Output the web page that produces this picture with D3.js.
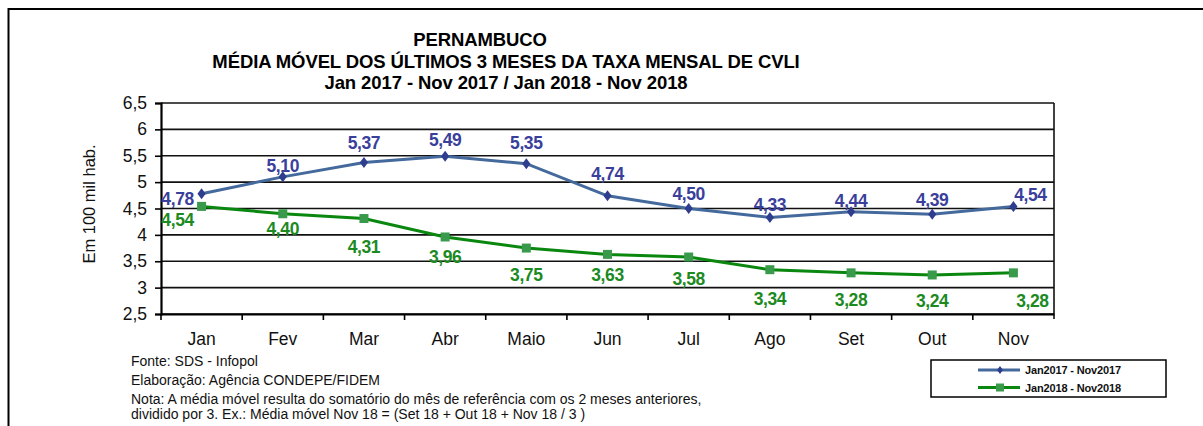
<!DOCTYPE html>
<html>
<head>
<meta charset="utf-8">
<script src="https://cdn.jsdelivr.net/npm/d3@7"></script>
<style>
  body { margin: 0; background: #fff; }
  svg { font-family: Arial, "Liberation Sans", sans-serif; }
</style>
</head>
<body>
<div id="chart"></div>
<script>
const months = ['Jan', 'Fev', 'Mar', 'Abr', 'Maio', 'Jun', 'Jul', 'Ago', 'Set', 'Out', 'Nov']
const serie2017 = [4.78, 5.10, 5.37, 5.49, 5.35, 4.74, 4.50, 4.33, 4.44, 4.39, 4.54]
const serie2018 = [4.54, 4.40, 4.31, 3.96, 3.75, 3.63, 3.58, 3.34, 3.28, 3.24, 3.28]
const yTicks = [2.5, 3, 3.5, 4, 4.5, 5, 5.5, 6, 6.5]
const seriesNames = ['Jan2017 - Nov2017', 'Jan2018 - Nov2018']
const titleLines = [
  'PERNAMBUCO',
  'MÉDIA MÓVEL DOS ÚLTIMOS  3 MESES DA TAXA  MENSAL DE CVLI',
  'Jan 2017 - Nov 2017 / Jan 2018 - Nov 2018'
]
const notes = [
  'Fonte: SDS - Infopol',
  'Elaboração: Agência  CONDEPE/FIDEM',
  'Nota: A média móvel resulta do somatório do mês de referência com os 2 meses anteriores,',
  'dividido por 3. Ex.: Média móvel Nov 18 = (Set 18 + Out 18 + Nov 18 / 3 )'
]

// layout: deslocamento vertical dos rótulos (como no original do Excel)
const labelDy2017 = [11, -5, -14, -10, -15, -16, -9, -6, -5, -8, -5]
const labelDy2018 = [20, 21, 34, 26, 33, 27, 28, 35, 33, 32, 34]

const width = 1203
const height = 426
const margin = { left: 161, right: 1054, top: 103, bottom: 314 }
const font = 'Arial, "Liberation Sans", sans-serif'

const ptBR = d3.formatLocale({ decimal: ',', thousands: '.', grouping: [3], currency: ['R$', ''] })
const fmt2 = ptBR.format('.2f')
const fmtTick = (d) => String(d).replace('.', ',')

const svg = d3
  .select('#chart')
  .append('svg')
  .attr('width', width)
  .attr('height', height)

// moldura externa
svg
  .append('rect')
  .attr('x', 8.5)
  .attr('y', 9)
  .attr('width', 1300)
  .attr('height', 600)
  .attr('fill', 'none')
  .attr('stroke', '#000')
  .attr('stroke-width', 2)

const x = d3.scaleBand().domain(months).range([margin.left, margin.right]).padding(0)
const y = d3.scaleLinear().domain([2.5, 6.5]).range([margin.bottom, margin.top])
const cx = (m) => x(m) + x.bandwidth() / 2

// título
svg
  .append('g')
  .selectAll('text')
  .data(titleLines)
  .join('text')
  .attr('x', (d, i) => (i === 0 ? 480 : 506))
  .attr('y', (d, i) => [46, 68, 89][i])
  .attr('text-anchor', 'middle')
  .attr('font-size', 18.5)
  .attr('font-weight', 'bold')
  .attr('letter-spacing', -0.1)
  .text((d) => d)

// grade horizontal
svg
  .append('g')
  .selectAll('line')
  .data(yTicks)
  .join('line')
  .attr('x1', margin.left)
  .attr('x2', margin.right)
  .attr('y1', (d) => y(d))
  .attr('y2', (d) => y(d))
  .attr('stroke', '#111')
  .attr('stroke-width', 1.6)

// borda direita
svg
  .append('line')
  .attr('x1', margin.right)
  .attr('x2', margin.right)
  .attr('y1', margin.top)
  .attr('y2', margin.bottom + 5)
  .attr('stroke', '#111')
  .attr('stroke-width', 1.6)

// eixo y
const yAxis = svg
  .append('g')
  .attr('transform', `translate(${margin.left},0)`)
  .call(d3.axisLeft(y).tickValues(yTicks).tickSize(6).tickPadding(8).tickFormat(fmtTick))
yAxis.select('.domain').attr('stroke', '#000').attr('stroke-width', 2.2)
yAxis.selectAll('.tick line').attr('stroke', '#000').attr('stroke-width', 1.6)
yAxis.selectAll('.tick text').attr('font-size', 17.5).attr('fill', '#111').attr('font-family', font)

// eixo x
const xAxis = svg
  .append('g')
  .attr('transform', `translate(0,${margin.bottom})`)
  .call(d3.axisBottom(x).tickSize(0).tickPadding(19))
xAxis.select('.domain').attr('stroke', '#000').attr('stroke-width', 2.2)
xAxis.selectAll('.tick text').attr('font-size', 17.5).attr('fill', '#111').attr('font-family', font)

// marcas entre categorias
svg
  .append('g')
  .selectAll('line')
  .data(months.slice(1).map((m) => x(m)).concat([margin.left]))
  .join('line')
  .attr('x1', (d) => d)
  .attr('x2', (d) => d)
  .attr('y1', margin.bottom)
  .attr('y2', margin.bottom + 6)
  .attr('stroke', '#000')
  .attr('stroke-width', 1.6)

// título eixo y
svg
  .append('text')
  .attr('transform', `translate(95,204) rotate(-90)`)
  .attr('text-anchor', 'middle')
  .attr('font-size', 16.5)
  .attr('fill', '#111')
  .text('Em 100 mil hab.')

const line = d3
  .line()
  .x((d, i) => cx(months[i]))
  .y((d) => y(d))

// série 2018
svg
  .append('path')
  .attr('d', line(serie2018))
  .attr('fill', 'none')
  .attr('stroke', '#0a870f')
  .attr('stroke-width', 3)

svg
  .append('g')
  .selectAll('rect')
  .data(serie2018)
  .join('rect')
  .attr('x', (d, i) => cx(months[i]) - 4.5)
  .attr('y', (d) => y(d) - 4.5)
  .attr('width', 9)
  .attr('height', 9)
  .attr('fill', '#3a9a4c')

// série 2017
svg
  .append('path')
  .attr('d', line(serie2017))
  .attr('fill', 'none')
  .attr('stroke', '#44699c')
  .attr('stroke-width', 3)

const diamond = (s) => `M0,${-s}L${s * 0.75},0L0,${s}L${-s * 0.75},0Z`

svg
  .append('g')
  .selectAll('path')
  .data(serie2017)
  .join('path')
  .attr('d', diamond(5.5))
  .attr('transform', (d, i) => `translate(${cx(months[i])},${y(d)})`)
  .attr('fill', '#2f3d8e')

// rótulos de dados
const last = months.length - 1
const labelDx = (i) => (i === 0 ? -24 : i === last ? 17 : 0)

svg
  .append('g')
  .selectAll('text')
  .data(serie2017)
  .join('text')
  .attr('x', (d, i) => cx(months[i]) + labelDx(i))
  .attr('y', (d, i) => y(d) + labelDy2017[i])
  .attr('text-anchor', 'middle')
  .attr('font-size', 17.5)
  .attr('font-weight', 'bold')
  .attr('letter-spacing', -0.4)
  .attr('fill', '#3a3f9c')
  .text((d) => fmt2(d))

svg
  .append('g')
  .selectAll('text')
  .data(serie2018)
  .join('text')
  .attr('x', (d, i) => cx(months[i]) + labelDx(i) + (i === last ? 2 : 0))
  .attr('y', (d, i) => y(d) + labelDy2018[i])
  .attr('text-anchor', 'middle')
  .attr('font-size', 17.5)
  .attr('font-weight', 'bold')
  .attr('letter-spacing', -0.4)
  .attr('fill', '#1c8a1f')
  .text((d) => fmt2(d))

// notas
svg
  .append('g')
  .selectAll('text')
  .data(notes)
  .join('text')
  .attr('x', 131)
  .attr('y', (d, i) => [366, 385, 404, 419][i])
  .attr('font-size', 14)
  .attr('fill', '#111')
  .text((d) => d)

// legenda
const legend = svg.append('g').attr('transform', 'translate(931,360)')
legend
  .append('rect')
  .attr('width', 235)
  .attr('height', 37)
  .attr('fill', '#fff')
  .attr('stroke', '#000')
  .attr('stroke-width', 1.5)

const legendColors = [
  { line: '#44699c', mark: '#2f3d8e' },
  { line: '#0a870f', mark: '#3a9a4c' }
]
const rows = legend
  .selectAll('g')
  .data(seriesNames)
  .join('g')
  .attr('transform', (d, i) => `translate(0,${10 + i * 17.5})`)

rows
  .append('line')
  .attr('x1', 47)
  .attr('x2', 89)
  .attr('stroke', (d, i) => legendColors[i].line)
  .attr('stroke-width', 3)

rows.each(function (d, i) {
  const g = d3.select(this)
  if (i === 0) {
    g.append('path')
      .attr('d', diamond(4))
      .attr('transform', 'translate(69,0)')
      .attr('fill', legendColors[i].mark)
  } else {
    g.append('rect')
      .attr('x', 65)
      .attr('y', -4)
      .attr('width', 8)
      .attr('height', 8)
      .attr('fill', legendColors[i].mark)
  }
})

rows
  .append('text')
  .attr('x', 94)
  .attr('y', 4)
  .attr('font-size', 11)
  .attr('font-weight', 'bold')
  .attr('letter-spacing', -0.15)
  .attr('fill', '#111')
  .text((d) => d)
</script>
</body>
</html>
